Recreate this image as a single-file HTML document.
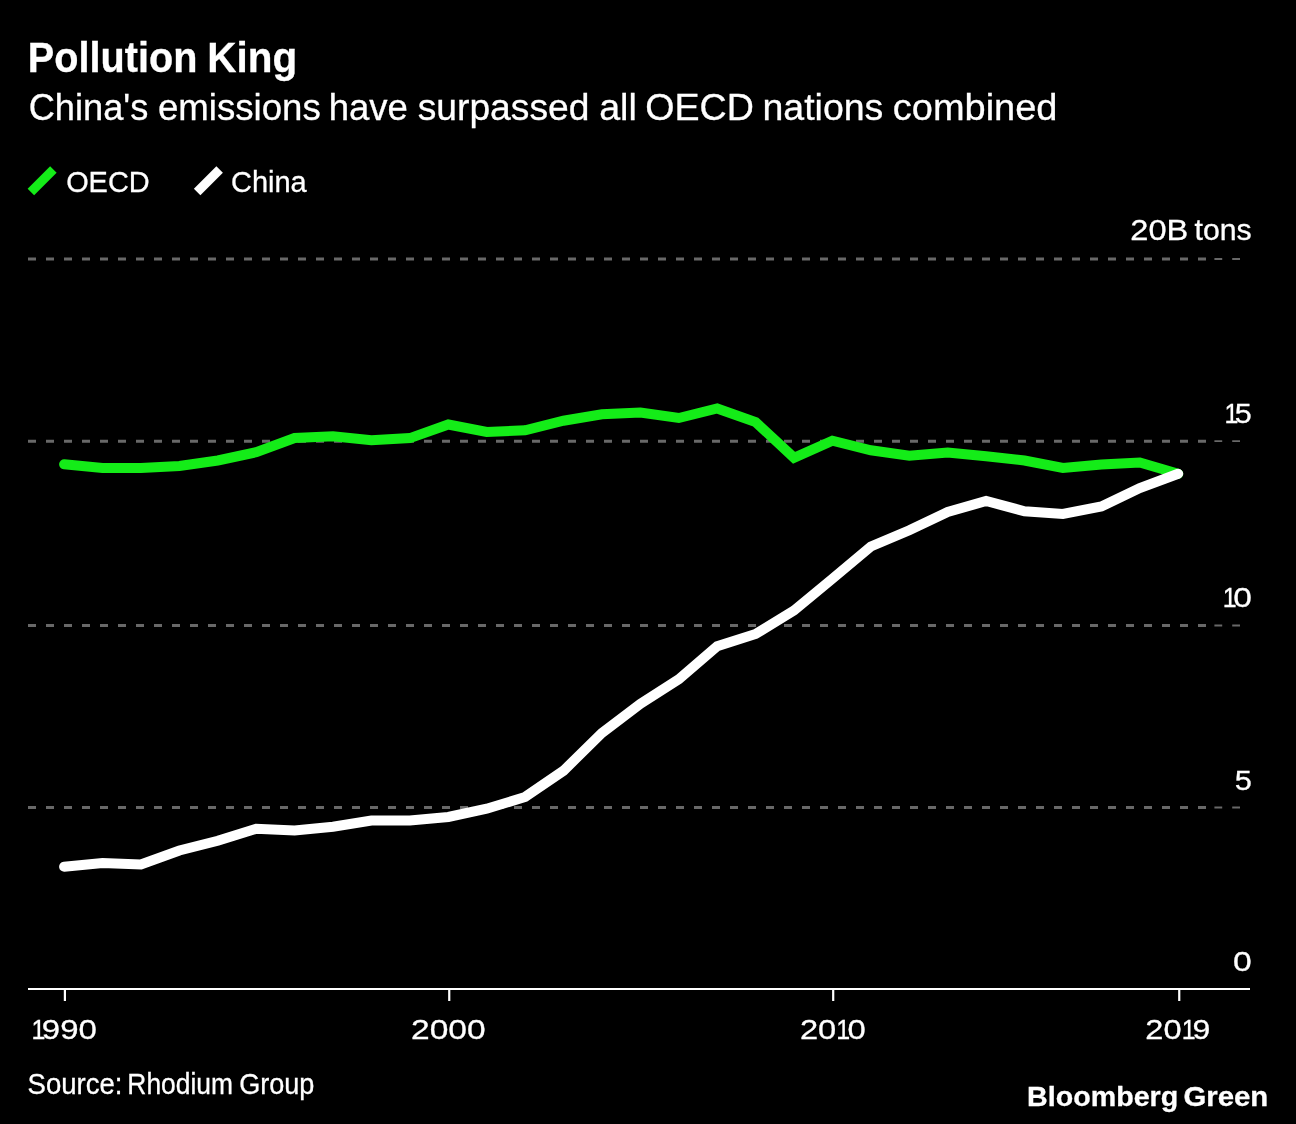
<!DOCTYPE html>
<html lang="en">
<head>
<meta charset="utf-8">
<title>Pollution King</title>
<style>
html,body{margin:0;padding:0;background:#000;}
body{width:1296px;height:1124px;overflow:hidden;}
svg{display:block;}
text{font-family:"Liberation Sans",Arial,Helvetica,sans-serif;fill:#fff;stroke:#fff;stroke-width:0.3px;font-kerning:none;white-space:pre;}
.b{font-weight:bold;}
</style>
</head>
<body>
<svg width="1296" height="1124" viewBox="0 0 1296 1124">
<rect width="1296" height="1124" fill="#000"/>
<text class="b" y="72" font-size="42.5" stroke="#fff" stroke-width="0.4"><tspan x="27.85" textLength="169.61" lengthAdjust="spacingAndGlyphs">Pollution</tspan> <tspan x="207.29" textLength="89.91" lengthAdjust="spacingAndGlyphs">King</tspan></text>
<text y="119.75" font-size="36"><tspan x="28.66" textLength="119.65" lengthAdjust="spacingAndGlyphs">China's</tspan> <tspan x="157.94" textLength="162.88" lengthAdjust="spacingAndGlyphs">emissions</tspan> <tspan x="328.72" textLength="79.15" lengthAdjust="spacingAndGlyphs">have</tspan> <tspan x="417.71" textLength="171.68" lengthAdjust="spacingAndGlyphs">surpassed</tspan> <tspan x="599.15" textLength="37.61" lengthAdjust="spacingAndGlyphs">all</tspan> <tspan x="645.22" textLength="108.58" lengthAdjust="spacingAndGlyphs">OECD</tspan> <tspan x="762.51" textLength="120.84" lengthAdjust="spacingAndGlyphs">nations</tspan> <tspan x="892.89" textLength="164.56" lengthAdjust="spacingAndGlyphs">combined</tspan></text>
<line x1="30.9" y1="191.9" x2="53.4" y2="169.4" stroke="#14ec18" stroke-width="9.2"/>
<text y="191.5" font-size="29"><tspan x="66.13" textLength="83.50" lengthAdjust="spacingAndGlyphs">OECD</tspan></text>
<line x1="197.15" y1="191.9" x2="219.65" y2="169.4" stroke="#fff" stroke-width="9.2"/>
<text y="191.5" font-size="29"><tspan x="231.03" textLength="75.72" lengthAdjust="spacingAndGlyphs">China</tspan></text>
<line x1="28" y1="259" x2="1206" y2="259" stroke="#686868" stroke-width="3" stroke-dasharray="8 10"/>
<path d="M1214.4,259h7.8M1232.2,259h7.8" stroke="#686868" stroke-width="1.8" fill="none"/>
<line x1="28" y1="441.2" x2="1206" y2="441.2" stroke="#686868" stroke-width="3" stroke-dasharray="8 10"/>
<path d="M1214.4,441.2h7.8M1232.2,441.2h7.8" stroke="#686868" stroke-width="1.8" fill="none"/>
<line x1="28" y1="625.5" x2="1206" y2="625.5" stroke="#686868" stroke-width="3" stroke-dasharray="8 10"/>
<path d="M1214.4,625.5h7.8M1232.2,625.5h7.8" stroke="#686868" stroke-width="1.8" fill="none"/>
<line x1="28" y1="807.5" x2="1206" y2="807.5" stroke="#686868" stroke-width="3" stroke-dasharray="8 10"/>
<path d="M1214.4,807.5h7.8M1232.2,807.5h7.8" stroke="#686868" stroke-width="1.8" fill="none"/>
<text y="239.8" font-size="29"><tspan x="1130.36" textLength="57.96" lengthAdjust="spacingAndGlyphs">20B</tspan> <tspan x="1194.54" textLength="57.15" lengthAdjust="spacingAndGlyphs">tons</tspan></text>
<text y="423" font-size="28.4"><tspan x="1224.51" textLength="13.90" lengthAdjust="spacingAndGlyphs">1</tspan><tspan x="1234.88" textLength="17.01" lengthAdjust="spacingAndGlyphs">5</tspan></text>
<text y="607.1" font-size="28.4"><tspan x="1222.71" textLength="13.90" lengthAdjust="spacingAndGlyphs">1</tspan><tspan x="1233.29" textLength="18.61" lengthAdjust="spacingAndGlyphs">0</tspan></text>
<text y="789.9" font-size="28.4"><tspan x="1234.77" textLength="17.13" lengthAdjust="spacingAndGlyphs">5</tspan></text>
<text y="970.7" font-size="28.4"><tspan x="1232.98" textLength="18.73" lengthAdjust="spacingAndGlyphs">0</tspan></text>
<path d="M64.1,464.25 L102.5,468.00 L140.9,468.00 L179.4,466.00 L217.8,460.50 L256.2,452.25 L294.6,438.00 L333.0,436.25 L371.4,440.25 L409.9,438.10 L448.3,424.50 L486.7,432.00 L525.1,430.25 L563.5,420.75 L601.9,414.25 L640.4,412.50 L678.8,418.00 L717.2,408.50 L755.6,422.00 L794.0,457.75 L832.4,440.75 L870.9,450.25 L909.3,455.75 L947.7,452.50 L986.1,456.25 L1024.5,460.50 L1062.9,468.00 L1101.4,464.50 L1139.8,462.50 L1178.2,473.75" fill="none" stroke="#14ec18" stroke-width="10" stroke-linecap="round" stroke-linejoin="miter"/>
<path d="M64.1,866.75 L102.5,863.00 L140.9,864.50 L179.4,850.50 L217.8,840.75 L256.2,828.75 L294.6,830.50 L333.0,826.75 L371.4,820.50 L409.9,820.50 L448.3,817.00 L486.7,808.75 L525.1,797.00 L563.5,770.75 L601.9,733.00 L640.4,703.75 L678.8,679.25 L717.2,646.25 L755.6,634.00 L794.0,610.50 L832.4,578.75 L870.9,546.50 L909.3,530.25 L947.7,512.00 L986.1,501.00 L1024.5,511.25 L1062.9,514.00 L1101.4,506.50 L1139.8,488.00 L1178.2,473.75" fill="none" stroke="#fff" stroke-width="10" stroke-linecap="round" stroke-linejoin="miter"/>
<line x1="28" y1="989" x2="1250" y2="989" stroke="#fff" stroke-width="2.2"/>
<line x1="64.9" y1="989" x2="64.9" y2="1001" stroke="#fff" stroke-width="2.2"/>
<text y="1039" font-size="28.4"><tspan x="31.41" textLength="13.90" lengthAdjust="spacingAndGlyphs">1</tspan><tspan x="41.85" textLength="55.03" lengthAdjust="spacingAndGlyphs">990</tspan></text>
<line x1="449.25" y1="989" x2="449.25" y2="1001" stroke="#fff" stroke-width="2.2"/>
<text y="1039" font-size="28.4"><tspan x="411.01" textLength="74.60" lengthAdjust="spacingAndGlyphs">2000</tspan></text>
<line x1="833.2" y1="989" x2="833.2" y2="1001" stroke="#fff" stroke-width="2.2"/>
<text y="1039" font-size="28.4"><tspan x="799.96" textLength="36.32" lengthAdjust="spacingAndGlyphs">20</tspan><tspan x="836.21" textLength="13.90" lengthAdjust="spacingAndGlyphs">1</tspan><tspan x="847.62" textLength="18.27" lengthAdjust="spacingAndGlyphs">0</tspan></text>
<line x1="1179.25" y1="989" x2="1179.25" y2="1001" stroke="#fff" stroke-width="2.2"/>
<text y="1039" font-size="28.4"><tspan x="1145.31" textLength="36.26" lengthAdjust="spacingAndGlyphs">20</tspan><tspan x="1181.71" textLength="13.90" lengthAdjust="spacingAndGlyphs">1</tspan><tspan x="1192.40" textLength="17.82" lengthAdjust="spacingAndGlyphs">9</tspan></text>
<text y="1093.75" font-size="29"><tspan x="27.50" textLength="95.02" lengthAdjust="spacingAndGlyphs">Source:</tspan> <tspan x="127.33" textLength="105.66" lengthAdjust="spacingAndGlyphs">Rhodium</tspan> <tspan x="239.14" textLength="75.25" lengthAdjust="spacingAndGlyphs">Group</tspan></text>
<text class="b" y="1105.8" font-size="28.2" stroke="#fff" stroke-width="1.35"><tspan x="1027.08" textLength="151.13" lengthAdjust="spacingAndGlyphs">Bloomberg</tspan> <tspan x="1183.40" textLength="84.82" lengthAdjust="spacingAndGlyphs">Green</tspan></text>
</svg>
</body>
</html>
